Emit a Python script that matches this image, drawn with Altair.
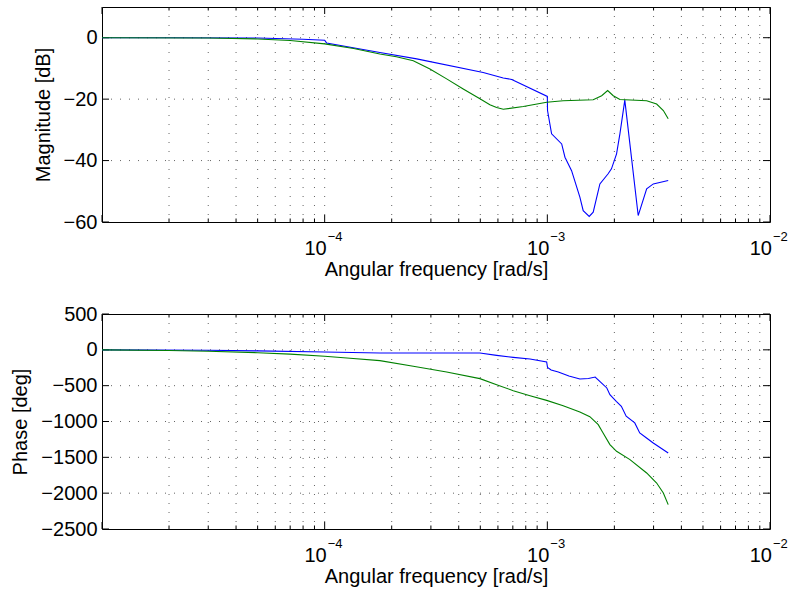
import altair as alt
import pandas as pd

# ---------------- data ----------------
series_names = ["blue", "green"]

freq_mag_blue = [1e-5, 2e-5, 5e-5, 8e-5, 1.0e-4, 1.02e-4, 1.77e-4, 2.59e-4, 5.15e-4, 6.34e-4,
                 6.92e-4, 1.0e-3, 1.002e-3, 1.045e-3, 1.16e-3, 1.2e-3, 1.285e-3, 1.40e-3,
                 1.449e-3, 1.542e-3, 1.607e-3, 1.722e-3, 1.875e-3, 1.941e-3, 2.046e-3,
                 2.118e-3, 2.228e-3, 2.559e-3, 2.793e-3, 2.992e-3, 3.49e-3]
mag_blue = [0, 0, -0.1, -0.5, -0.8, -1.7, -4.8, -6.9, -11.3, -13.1,
            -13.6, -19.1, -23.7, -31.3, -34.6, -38.9, -43.3, -51.9,
            -56.3, -58.2, -56.8, -47.6, -44.3, -42.7, -37.8,
            -31.3, -20.3, -57.9, -49.2, -47.6, -46.5]

freq_mag_green = [1e-5, 3e-5, 5e-5, 7e-5, 1e-4, 1.35e-4, 1.77e-4, 2.10e-4, 2.5e-4, 2.97e-4,
                  3.53e-4, 4.19e-4, 4.98e-4, 5.52e-4, 5.92e-4, 6.34e-4, 7.8e-4, 9.93e-4,
                  1.178e-3, 1.607e-3, 1.754e-3, 1.866e-3, 1.977e-3, 2.118e-3, 2.793e-3,
                  3.097e-3, 3.319e-3, 3.49e-3]
mag_green = [0, -0.1, -0.4, -0.9, -2.0, -3.5, -5.3, -6.2, -7.5, -10.2,
             -13.4, -16.7, -19.9, -21.8, -22.7, -23.3, -22.4, -21.0,
             -20.5, -20.2, -18.9, -17.2, -18.9, -20.1, -20.5,
             -21.6, -23.7, -26.4]

freq_ph_blue = [1e-5, 3e-5, 5e-5, 1e-4, 1.77e-4, 4.98e-4, 5.92e-4, 7.03e-4, 8.36e-4, 9.93e-4,
                1.002e-3, 1.04e-3, 1.12e-3, 1.25e-3, 1.40e-3, 1.53e-3, 1.64e-3, 1.72e-3,
                1.85e-3, 1.91e-3, 2.04e-3, 2.15e-3, 2.26e-3, 2.47e-3, 2.60e-3, 2.79e-3,
                2.99e-3, 3.49e-3]
ph_blue = [0, -5, -15, -30, -45, -45, -77, -105, -128, -170,
           -245, -282, -309, -365, -407, -400, -380, -440,
           -532, -625, -718, -788, -927, -1020, -1160, -1230,
           -1300, -1440]

freq_ph_green = [1e-5, 2e-5, 3e-5, 5e-5, 7e-5, 1e-4, 1.3e-4, 1.77e-4, 2.50e-4, 3.53e-4,
                 4.98e-4, 5.92e-4, 7.03e-4, 8.36e-4, 9.93e-4, 1.178e-3, 1.40e-3, 1.552e-3,
                 1.693e-3, 1.78e-3, 1.91e-3, 2.046e-3, 2.35e-3, 2.793e-3, 3.097e-3,
                 3.319e-3, 3.49e-3]
ph_green = [0, -10, -20, -40, -60, -90, -118, -151, -230, -309,
            -402, -486, -570, -640, -705, -779, -867, -932,
            -1044, -1160, -1323, -1416, -1532, -1718, -1858,
            -1997, -2160]

decades = [1e-5, 1e-4, 1e-3, 1e-2]
minor_mult = [2, 3, 4, 5, 6, 7, 8, 9]
label_decades = [1e-4, 1e-3, 1e-2]
label_exponents = ["\u22124", "\u22123", "\u22122"]

mag_ticks = [-60, -40, -20, 0]
mag_grid = [-40, -20, 0]
ph_ticks = [-2500, -2000, -1500, -1000, -500, 0, 500]
ph_grid = [-2000, -1500, -1000, -500, 0]

colors = ["#0000ff", "#008000"]
FONT = "Liberation Sans"
FS = 20
W, H = 668, 215

minor_pos = [m * d for d in decades[:-1] for m in minor_mult]
grid_x = minor_pos + decades[1:-1]


def panel(fb, vb, fg, vg, ydomain, yticks, ygrid, ytitle, ytitle_pad):
    lines = pd.concat([
        pd.DataFrame({"f": fb, "v": vb, "s": series_names[0], "o": range(len(fb))}),
        pd.DataFrame({"f": fg, "v": vg, "s": series_names[1], "o": range(len(fg))}),
    ])
    xsc = alt.Scale(type="log", domain=[decades[0], decades[-1]], nice=False)
    ysc = alt.Scale(domain=ydomain, nice=False, zero=False)

    xax = alt.Axis(labels=False, ticks=False, grid=False, domain=False,
                   title="Angular frequency [rad/s]", titleFont=FONT, titleFontSize=FS,
                   titleFontWeight="normal", titleColor="black", titlePadding=37)
    yax = alt.Axis(values=yticks, format="d", ticks=False, grid=False, domain=False,
                   labelFont=FONT, labelFontSize=FS, labelColor="black", labelPadding=5,
                   labelOverlap=False, labelFlush=False,
                   title=ytitle, titleFont=FONT, titleFontSize=FS, titleFontWeight="normal",
                   titleColor="black", titlePadding=ytitle_pad)

    def X():
        return alt.X("f:Q", scale=xsc, axis=xax)

    def Y():
        return alt.Y("v:Q", scale=ysc, axis=yax)

    gx = pd.DataFrame({"f": grid_x})
    gy = pd.DataFrame({"v": ygrid})
    major = pd.DataFrame({"f": decades})
    minor = pd.DataFrame({"f": minor_pos})
    yt = pd.DataFrame({"v": yticks})
    lab = pd.DataFrame({"f": label_decades, "base": ["10"] * 3, "exp": label_exponents})

    dash = dict(strokeDash=[1, 8], color="#222222", strokeWidth=1, opacity=0.7)

    grid_x_layer = alt.Chart(gx).mark_rule(**dash).encode(
        x=X(), y=alt.value(0), y2=alt.value(H))
    grid_y_layer = alt.Chart(gy).mark_rule(**dash).encode(
        y=Y(), x=alt.value(0), x2=alt.value(W))

    tk = dict(color="black", strokeWidth=1)
    tick_layers = [
        alt.Chart(major).mark_rule(**tk).encode(x=X(), y=alt.value(H), y2=alt.value(H - 7)),
        alt.Chart(major).mark_rule(**tk).encode(x=X(), y=alt.value(0), y2=alt.value(7)),
        alt.Chart(minor).mark_rule(**tk).encode(x=X(), y=alt.value(H), y2=alt.value(H - 3.5)),
        alt.Chart(minor).mark_rule(**tk).encode(x=X(), y=alt.value(0), y2=alt.value(3.5)),
        alt.Chart(yt).mark_rule(**tk).encode(y=Y(), x=alt.value(0), x2=alt.value(7)),
        alt.Chart(yt).mark_rule(**tk).encode(y=Y(), x=alt.value(W), x2=alt.value(W - 7)),
    ]

    line_layer = alt.Chart(lines).mark_line(strokeWidth=1.1, clip=True).encode(
        x=X(),
        y=Y(),
        color=alt.Color("s:N", scale=alt.Scale(domain=series_names, range=colors), legend=None),
        order="o:Q",
    )

    base_txt = alt.Chart(lab).mark_text(align="right", baseline="alphabetic", font=FONT,
                                        fontSize=FS, dx=2, color="black").encode(
        x=X(), y=alt.value(H + 33), text="base:N")
    exp_txt = alt.Chart(lab).mark_text(align="left", baseline="alphabetic", font=FONT,
                                       fontSize=13, dx=3, color="black").encode(
        x=X(), y=alt.value(H + 19), text="exp:N")

    return alt.layer(grid_x_layer, grid_y_layer, *tick_layers, line_layer, base_txt, exp_txt
                     ).properties(width=W, height=H)


top = panel(freq_mag_blue, mag_blue, freq_mag_green, mag_green, [-60, 10],
            mag_ticks, mag_grid, "Magnitude [dB]", 10)
bottom = panel(freq_ph_blue, ph_blue, freq_ph_green, ph_green, [-2500, 500],
               ph_ticks, ph_grid, "Phase [deg]", 10)

chart = alt.vconcat(top, bottom, spacing=23).properties(
    padding={"left": 10, "top": 6, "right": 2, "bottom": 2},
    background="white",
).configure_view(stroke="black", strokeWidth=1)

chart.save("out.html", embed_options={"renderer": "svg", "actions": False})
